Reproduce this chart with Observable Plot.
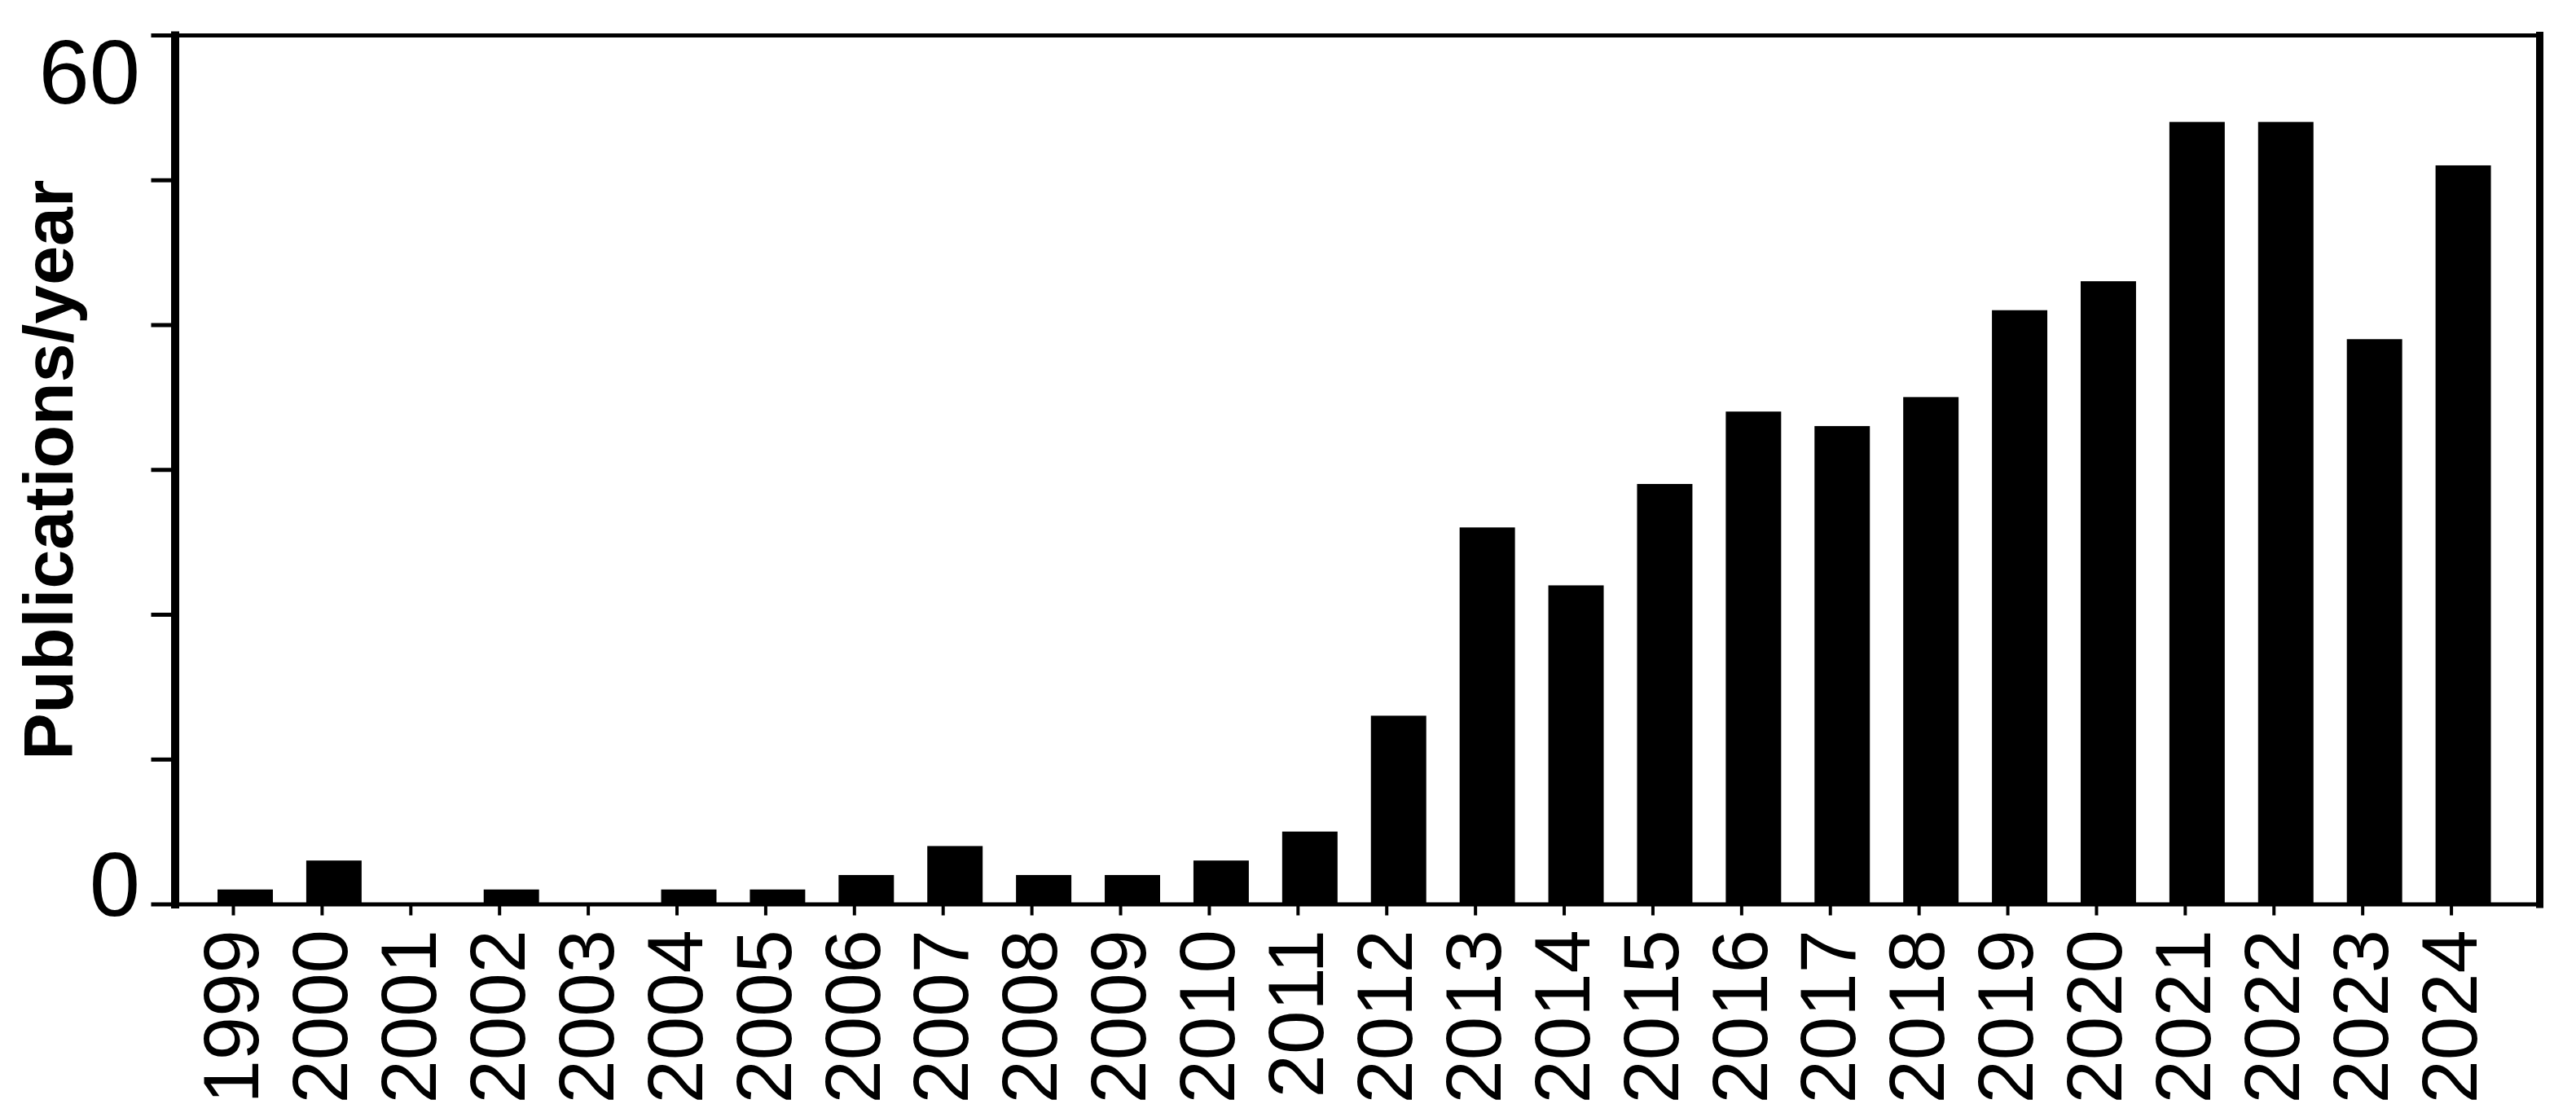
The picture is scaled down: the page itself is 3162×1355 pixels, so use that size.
<!DOCTYPE html>
<html><head><meta charset="utf-8">
<script src="https://cdn.jsdelivr.net/npm/d3@7"></script>
<script src="https://cdn.jsdelivr.net/npm/@observablehq/plot@0.6"></script>
<style>body{margin:0;background:#fff;} svg{display:block}</style>
</head><body><div id="chart"></div>
<script>
const years = ["1999","2000","2001","2002","2003","2004","2005","2006","2007","2008","2009","2010","2011","2012","2013","2014","2015","2016","2017","2018","2019","2020","2021","2022","2023","2024"];
const counts = [1,3,0,1,0,1,1,2,4,2,2,3,5,13,26,22,29,34,33,35,41,43,54,54,39,51];
const yTicks = [0,10,20,30,40,50,60];
const yLabeledTop = [60];
const yLabeledBottom = [0];
const yLabel = "Publications/year";
const data = years.map((year, i) => ({year, count: counts[i]}));

const chart = Plot.plot({
  width: 3162, height: 1355,
  marginLeft: 214.5, marginRight: 45, marginTop: 43, marginBottom: 245.5,
  style: {fontFamily: "'Liberation Sans', Arial, sans-serif", background: "#fff", color: "#000"},
  x: {domain: years, paddingInner: 0.376, paddingOuter: 0.514, align: 0.469, round: false},
  y: {domain: [0, 60]},
  marks: [
    Plot.barY(data, {x: "year", y: "count", fill: "#000"}),
    Plot.axisY({ticks: yTicks, tickFormat: () => "", tickSize: 29, strokeWidth: 5, label: null}),
    Plot.axisY({ticks: yLabeledTop, tickSize: 0, tickPadding: 43, fontSize: 112, dy: 48, label: null}),
    Plot.axisY({ticks: yLabeledBottom, tickSize: 0, tickPadding: 43, fontSize: 112, dy: -22, label: null}),
    Plot.axisX({tickRotate: -90, tickSize: 14, tickPadding: 17, fontSize: 96, strokeWidth: 4, dx: -15, label: null}),
    Plot.ruleY([0], {strokeWidth: 5}),
    Plot.ruleY([60], {strokeWidth: 5}),
    Plot.frame({anchor: "left", strokeWidth: 10}),
    Plot.frame({anchor: "right", strokeWidth: 9}),
    Plot.text([yLabel], {frameAnchor: "left", textAnchor: "middle", rotate: -90, dx: -154, fontSize: 86, fontWeight: "bold"})
  ]
});
document.getElementById("chart").appendChild(chart);
</script>
</body></html>
